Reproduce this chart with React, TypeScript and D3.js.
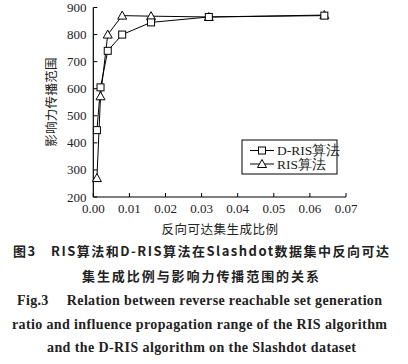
import React from "react";
import * as d3 from "d3";

const ratios = [0.001, 0.002, 0.004, 0.008, 0.016, 0.032, 0.064];
const drisValues = [447, 605, 740, 800, 845, 865, 870];
const risValues = [270, 572, 800, 870, 868, 865, 872];
const xTicks = [0, 0.01, 0.02, 0.03, 0.04, 0.05, 0.06, 0.07];
const yTicks = [200, 300, 400, 500, 600, 700, 800, 900];
const seriesNames = ["D-RIS算法", "RIS算法"];
const xLabel = "反向可达集生成比例";
const yLabel = "影响力传播范围";
const captionLines = [
  "图3　RIS算法和D-RIS算法在Slashdot数据集中反向可达",
  "集生成比例与影响力传播范围的关系",
  "Fig.3　 Relation between reverse reachable set generation",
  "ratio and influence propagation range of the RIS algorithm",
  "and the D-RIS algorithm on the Slashdot dataset",
];

const W = 408;
const H = 364;
const serif = "'Liberation Serif', 'DejaVu Serif', serif";
const cjk = "'Noto Sans CJK SC', sans-serif";

export default function App() {
  const x = d3.scaleLinear().domain([0, 0.07]).range([93.3, 346]);
  const y = d3.scaleLinear().domain([200, 900]).range([197, 7.5]);
  const line = d3
    .line<number>()
    .x((_, i) => x(ratios[i]))
    .y((d) => y(d));

  const square = (cx: number, cy: number, k: string) => (
    <rect key={k} x={cx - 3.5} y={cy - 3.5} width={7} height={7} fill="white" stroke="black" strokeWidth={1} />
  );
  const tri = (cx: number, cy: number, k: string) => (
    <path
      key={k}
      d={`M${cx},${cy - 4.5}L${cx + 4.5},${cy + 3.5}L${cx - 4.5},${cy + 3.5}Z`}
      fill="white"
      stroke="black"
      strokeWidth={1}
    />
  );

  const captionGeo = [
    { y: 256, x1: 13, x2: 389, font: cjk, weight: 700, size: 13 },
    { y: 281, x1: 82, x2: 319, font: cjk, weight: 700, size: 13 },
    { y: 305, x1: 17, x2: 382, font: serif, weight: 700, size: 14 },
    { y: 329, x1: 12, x2: 387, font: serif, weight: 700, size: 14 },
    { y: 352, x1: 47, x2: 356, font: serif, weight: 700, size: 14 },
  ];

  return (
    <svg
      width={W}
      height={H}
      style={{ position: "absolute", left: 0, top: 0, background: "white" }}
    >
      <rect width={W} height={H} fill="white" />
      {/* axes */}
      <line x1={x(0)} x2={x(0.07)} y1={y(200)} y2={y(200)} stroke="black" strokeWidth={1.2} />
      <line x1={x(0)} x2={x(0)} y1={y(200)} y2={y(900)} stroke="black" strokeWidth={1.2} />
      {xTicks.map((t) => (
        <g key={"xt" + t}>
          <line x1={x(t)} x2={x(t)} y1={y(200)} y2={y(200) - 4} stroke="black" />
          <text
            x={x(t)}
            y={213}
            textAnchor="middle"
            fontFamily={serif}
            fontSize={13}
            fill="#222"
          >
            {d3.format(".2f")(t)}
          </text>
        </g>
      ))}
      {yTicks.map((t) => (
        <g key={"yt" + t}>
          <line x1={x(0)} x2={x(0) + 4} y1={y(t)} y2={y(t)} stroke="black" />
          <text
            x={86.5}
            y={y(t) + 4.5}
            textAnchor="end"
            fontFamily={serif}
            fontSize={13}
            fill="#222"
          >
            {t}
          </text>
        </g>
      ))}
      <text x={220} y={234} textAnchor="middle" fontFamily={cjk} fontSize={12.5} fill="#222" letterSpacing={0.5}>
        {xLabel}
      </text>
      <text
        transform={`translate(56,102) rotate(-90)`}
        textAnchor="middle"
        fontFamily={cjk}
        fontSize={12.5}
        fill="#222"
        letterSpacing={0.3}
      >
        {yLabel}
      </text>
      {/* series */}
      <path d={line(drisValues) || ""} fill="none" stroke="black" strokeWidth={1} />
      <path d={line(risValues) || ""} fill="none" stroke="black" strokeWidth={1} />
      {risValues.map((v, i) => tri(x(ratios[i]), y(v), "r" + i))}
      {drisValues.map((v, i) => square(x(ratios[i]), y(v), "d" + i))}
      {/* legend */}
      <rect x={242} y={140} width={95} height={34} fill="white" stroke="black" strokeWidth={1} />
      <line x1={250} x2={274} y1={150.5} y2={150.5} stroke="black" />
      {square(262, 150.5, "ls")}
      <text x={277} y={155} fontFamily={serif} fontSize={13.5} fill="#222">
        {seriesNames[0]}
      </text>
      <line x1={250} x2={274} y1={164} y2={164} stroke="black" />
      {tri(262, 164, "lt")}
      <text x={277} y={168.5} fontFamily={serif} fontSize={13.5} fill="#222">
        {seriesNames[1]}
      </text>
      {/* caption */}
      {captionLines.map((s, i) => {
        const g = captionGeo[i];
        return (
          <text
            key={"c" + i}
            x={g.x1}
            y={g.y}
            fontFamily={g.font}
            fontWeight={g.weight}
            fontSize={g.size}
            fill="#222"
            textLength={g.x2 - g.x1}
            lengthAdjust="spacing"
          >
            {s}
          </text>
        );
      })}
    </svg>
  );
}
